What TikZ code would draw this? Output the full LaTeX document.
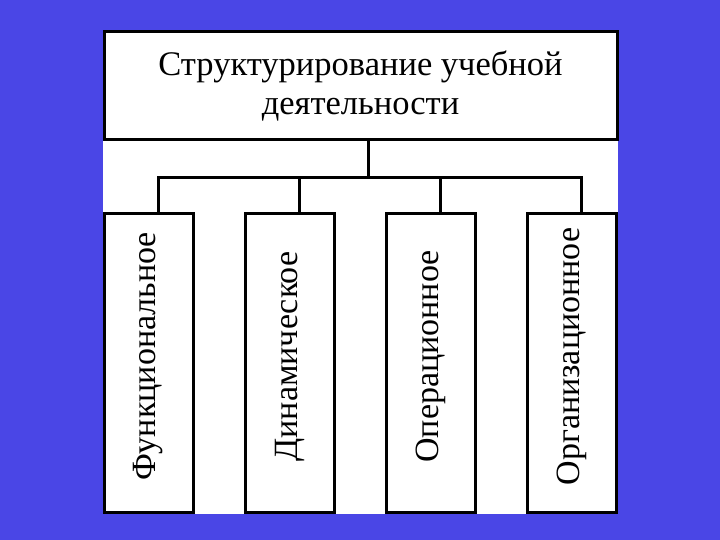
\documentclass[tikz,border=0pt]{standalone}
\usepackage{fontspec}
\setmainfont{Liberation Serif}
\usetikzlibrary{positioning}

\definecolor{slideblue}{RGB}{74,70,230}
\newcommand{\vlabel}[1]{\rotatebox{90}{\hspace*{13pt}#1}}

\begin{document}
\begin{tikzpicture}[
    x=1pt, y=-1pt,
    headbox/.style={
        draw,
        line width = 3pt,
        rectangle,
        minimum width = 513pt,
        minimum height = 108pt,
        align = center,
        inner sep = 0pt,
        font = \fontsize{34.5}{39}\selectfont,
        },
    aspectbox/.style={
        draw,
        line width = 3pt,
        rectangle,
        minimum width = 89pt,
        minimum height = 298pt,
        inner sep = 0pt,
        font = \fontsize{34}{40}\selectfont,
        },
    wire/.style={
        line width = 3pt,
        },
]

\useasboundingbox (0,0) rectangle (720,540);
\fill[slideblue] (0,0) rectangle (720,540);
\fill[white] (103,30) rectangle (618,514);

\node[headbox] (head) at (360.5,86) {Структурирование учебной\\деятельности};

\node[aspectbox] (func) at (148.5,363) {\vlabel{Функциональное}};
\node[aspectbox, right = 49pt of func] (dyn) {\vlabel{Динамическое}};
\node[aspectbox, right = 49pt of dyn] (oper) {\vlabel{Операционное}};
\node[aspectbox, right = 49pt of oper] (org) {\vlabel{Организационное}};

% tree of connectors
\coordinate (hub) at (368,178);
\draw[wire] (head.south -| hub) -- (hub);
\draw[wire] ([xshift=9.5pt]func.north) |- (hub) -| ([xshift=9.5pt]org.north);
\draw[wire] ([xshift=9.5pt]dyn.north) -- ([xshift=9.5pt]dyn.north |- hub);
\draw[wire] ([xshift=9.5pt]oper.north) -- ([xshift=9.5pt]oper.north |- hub);

\end{tikzpicture}
\end{document}
